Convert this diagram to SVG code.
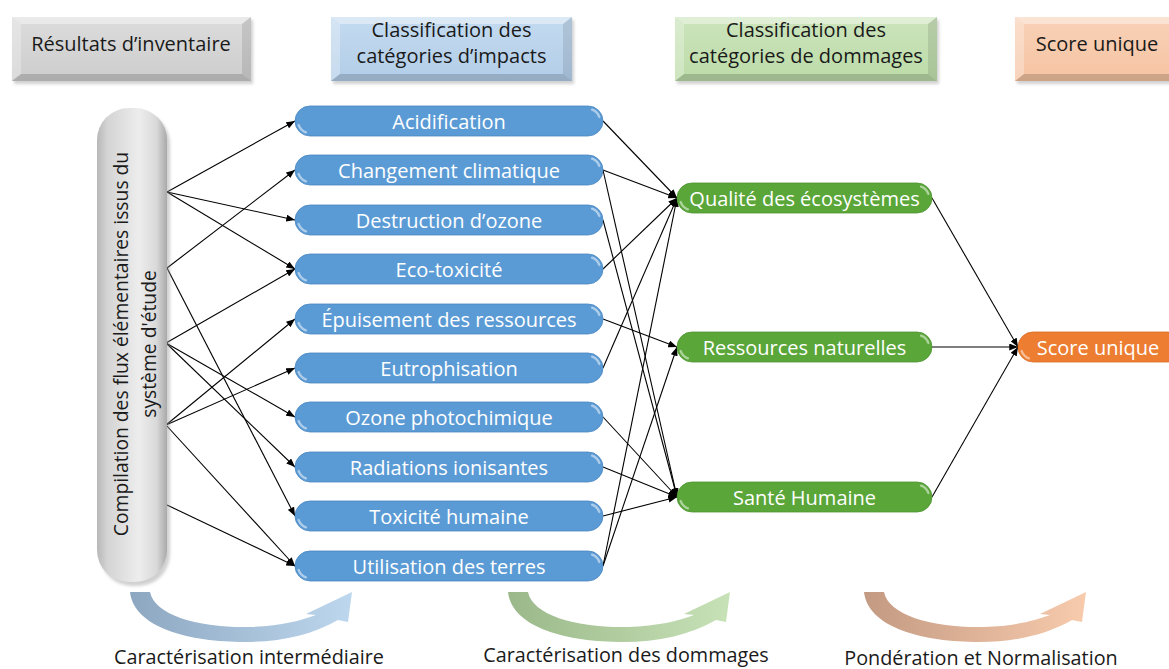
<svg xmlns="http://www.w3.org/2000/svg" width="1169" height="669" viewBox="0 0 1169 669">
<style>
  text { font-family: "Open Sans", "Noto Sans", sans-serif; }
  .hdr { font-size: 20px; fill: #1a1a1a; text-anchor: middle; }
  .lbl { font-size: 19.8px; fill: #1a1a1a; text-anchor: middle; }
  .pt { font-size: 20px; fill: #ffffff; text-anchor: middle; dominant-baseline: central; }
  .ptl { font-size: 19.3px; fill: #1a1a1a; text-anchor: middle; }
  .imp { fill: #5b9bd5; stroke: #4a86c0; stroke-width: 0.8; }
  .dmg { fill: #5aa639; stroke: #4e9432; stroke-width: 0.8; }
  .sc { fill: #ed7d31; stroke: #d96d25; stroke-width: 0.8; }
  .gl { fill: none; stroke: #ffffff; stroke-opacity: 0.5; stroke-width: 2.4; stroke-linecap: round; }
  .conn line { stroke: #000; stroke-width: 1.1; marker-end: url(#ah); }
  .bev-l { fill: #ffffff; opacity: 0.28; }
  .bev-t { fill: #ffffff; opacity: 0.4; }
  .bev-r { fill: #000000; opacity: 0.10; }
  .bev-b { fill: #000000; opacity: 0.16; }
</style>
<defs>
  <marker id="ah" viewBox="0 0 10 8" refX="10" refY="4" markerWidth="9" markerHeight="7" markerUnits="userSpaceOnUse" orient="auto">
    <path d="M0,0 L10,4 L0,8 Z" fill="#000"/>
  </marker>
  <filter id="sh" x="-10%" y="-20%" width="130%" height="160%">
    <feGaussianBlur stdDeviation="1.5"/>
  </filter>
  <linearGradient id="gPill" x1="0" y1="0" x2="1" y2="0">
    <stop offset="0" stop-color="#b8b8b8"/>
    <stop offset="0.15" stop-color="#d4d4d4"/>
    <stop offset="0.6" stop-color="#ededed"/>
    <stop offset="0.85" stop-color="#d9d9d9"/>
    <stop offset="1" stop-color="#a9a9a9"/>
  </linearGradient>
  <linearGradient id="gGray" x1="0" y1="0" x2="0" y2="1">
    <stop offset="0" stop-color="#dcdcdc"/>
    <stop offset="1" stop-color="#cdcdcd"/>
  </linearGradient>
  <linearGradient id="gBlue" x1="0" y1="0" x2="0" y2="1">
    <stop offset="0" stop-color="#c4dbf0"/>
    <stop offset="1" stop-color="#b2cde8"/>
  </linearGradient>
  <linearGradient id="gGreen" x1="0" y1="0" x2="0" y2="1">
    <stop offset="0" stop-color="#cce4bc"/>
    <stop offset="1" stop-color="#bcdca8"/>
  </linearGradient>
  <linearGradient id="gOrange" x1="0" y1="0" x2="0" y2="1">
    <stop offset="0" stop-color="#f9d2b8"/>
    <stop offset="1" stop-color="#f5c3a2"/>
  </linearGradient>
  <linearGradient id="aBlue" x1="0" y1="0" x2="1" y2="0">
    <stop offset="0" stop-color="#8ea7c1"/>
    <stop offset="1" stop-color="#bdd7ee"/>
  </linearGradient>
  <linearGradient id="aGreen" x1="0" y1="0" x2="1" y2="0">
    <stop offset="0" stop-color="#9ab889"/>
    <stop offset="1" stop-color="#c8e2b7"/>
  </linearGradient>
  <linearGradient id="aOrange" x1="0" y1="0" x2="1" y2="0">
    <stop offset="0" stop-color="#c39a82"/>
    <stop offset="1" stop-color="#f8cbad"/>
  </linearGradient>
  <path id="swoosh" d="M0,0 L20,0 C25,24 70,36 120,35 C150,34 170,29 186,23 L176,22 L222,0 L218,30 L208,28 C182,43 150,50 115,50 C60,50 4,36 0,0 Z"/>
  <path id="glL" d="M-11.3,4.1 A12,12 0 0 0 -4.1,11.3"/>
  <path id="glR" d="M4.1,-11.3 A12,12 0 0 1 11.3,-4.1"/>
</defs>

<rect width="1169" height="669" fill="#ffffff"/>

<!-- Header boxes -->
<g id="hdr-inventaire">
  <rect x="14" y="20" width="239" height="64" fill="#9a9a9a" opacity="0.45" filter="url(#sh)"/>
  <rect x="12" y="17" width="239" height="64" fill="url(#gGray)"/>
  <polygon class="bev-t" points="12,17 251,17 242,24 21,24"/>
  <polygon class="bev-l" points="12,17 21,24 21,74 12,81"/>
  <polygon class="bev-r" points="251,17 251,81 242,74 242,24"/>
  <polygon class="bev-b" points="12,81 21,74 242,74 251,81"/>
  <text class="hdr" x="131" y="50.5">Résultats d’inventaire</text>
</g>
<g id="hdr-impacts">
  <rect x="333" y="20" width="241" height="64" fill="#9a9a9a" opacity="0.45" filter="url(#sh)"/>
  <rect x="331" y="17" width="241" height="64" fill="url(#gBlue)"/>
  <polygon class="bev-t" points="331,17 572,17 563,24 340,24"/>
  <polygon class="bev-l" points="331,17 340,24 340,74 331,81"/>
  <polygon class="bev-r" points="572,17 572,81 563,74 563,24"/>
  <polygon class="bev-b" points="331,81 340,74 563,74 572,81"/>
  <text class="hdr" x="451.5" y="37">Classification des</text>
  <text class="hdr" x="451.5" y="63">catégories d’impacts</text>
</g>
<g id="hdr-dommages">
  <rect x="677" y="20" width="262" height="64" fill="#9a9a9a" opacity="0.45" filter="url(#sh)"/>
  <rect x="675" y="17" width="262" height="64" fill="url(#gGreen)"/>
  <polygon class="bev-t" points="675,17 937,17 928,24 684,24"/>
  <polygon class="bev-l" points="675,17 684,24 684,74 675,81"/>
  <polygon class="bev-r" points="937,17 937,81 928,74 928,24"/>
  <polygon class="bev-b" points="675,81 684,74 928,74 937,81"/>
  <text class="hdr" x="806" y="37">Classification des</text>
  <text class="hdr" x="806" y="63">catégories de dommages</text>
</g>
<g id="hdr-score">
  <rect x="1017" y="20" width="170" height="64" fill="#9a9a9a" opacity="0.45" filter="url(#sh)"/>
  <rect x="1015" y="17" width="170" height="64" fill="url(#gOrange)"/>
  <polygon class="bev-t" points="1015,17 1185,17 1176,24 1024,24"/>
  <polygon class="bev-l" points="1015,17 1024,24 1024,74 1015,81"/>
  <polygon class="bev-b" points="1015,81 1024,74 1176,74 1185,81"/>
  <text class="hdr" x="1097" y="50.5">Score unique</text>
</g>

<!-- Connectors -->
<g id="connectors" class="conn">
  <line x1="167" y1="192" x2="295" y2="121"/>
  <line x1="167" y1="192" x2="295" y2="220"/>
  <line x1="167" y1="192" x2="295" y2="269"/>
  <line x1="167" y1="268" x2="295" y2="170"/>
  <line x1="167" y1="268" x2="295" y2="516"/>
  <line x1="166" y1="343" x2="295" y2="269"/>
  <line x1="166" y1="343" x2="295" y2="417"/>
  <line x1="166" y1="343" x2="295" y2="467"/>
  <line x1="166" y1="425" x2="295" y2="319"/>
  <line x1="166" y1="425" x2="295" y2="368"/>
  <line x1="166" y1="425" x2="295" y2="566"/>
  <line x1="167" y1="505" x2="295" y2="566"/>

  <line x1="603" y1="121" x2="677" y2="198"/>
  <line x1="603" y1="170" x2="677" y2="198"/>
  <line x1="603" y1="170" x2="677" y2="497"/>
  <line x1="603" y1="220" x2="677" y2="497"/>
  <line x1="603" y1="269" x2="677" y2="198"/>
  <line x1="603" y1="319" x2="677" y2="347"/>
  <line x1="603" y1="368" x2="677" y2="198"/>
  <line x1="603" y1="417" x2="677" y2="497"/>
  <line x1="603" y1="467" x2="677" y2="497"/>
  <line x1="603" y1="516" x2="677" y2="497"/>
  <line x1="603" y1="566" x2="677" y2="198"/>
  <line x1="603" y1="566" x2="677" y2="347"/>

  <line x1="932" y1="198" x2="1018" y2="347"/>
  <line x1="932" y1="347" x2="1018" y2="347"/>
  <line x1="932" y1="497" x2="1018" y2="347"/>
</g>

<!-- Inventory pill -->
<g id="inventaire">
  <rect x="100" y="112" width="70" height="474" rx="32" ry="32" fill="#999" opacity="0.45" filter="url(#sh)"/>
  <rect x="97" y="108" width="70" height="474" rx="32" ry="32" fill="url(#gPill)"/>
  <text class="ptl" transform="translate(128,344) rotate(-90)">Compilation des flux élémentaires issus du</text>
  <text class="ptl" transform="translate(156,344) rotate(-90)">système d'étude</text>
</g>

<!-- Impact categories -->
<g id="imp-acidification">
  <rect class="imp" x="295" y="106" width="308" height="30" rx="15"/>
  <use class="gl" href="#glL" transform="translate(310,121)"/><use class="gl" href="#glR" transform="translate(588,121)"/>
  <text class="pt" x="449" y="121">Acidification</text>
</g>
<g id="imp-changement">
  <rect class="imp" x="295" y="155" width="308" height="30" rx="15"/>
  <use class="gl" href="#glL" transform="translate(310,170)"/><use class="gl" href="#glR" transform="translate(588,170)"/>
  <text class="pt" x="449" y="170">Changement climatique</text>
</g>
<g id="imp-destruction">
  <rect class="imp" x="295" y="205" width="308" height="30" rx="15"/>
  <use class="gl" href="#glL" transform="translate(310,220)"/><use class="gl" href="#glR" transform="translate(588,220)"/>
  <text class="pt" x="449" y="220">Destruction d’ozone</text>
</g>
<g id="imp-ecotox">
  <rect class="imp" x="295" y="254" width="308" height="30" rx="15"/>
  <use class="gl" href="#glL" transform="translate(310,269)"/><use class="gl" href="#glR" transform="translate(588,269)"/>
  <text class="pt" x="449" y="269">Eco-toxicité</text>
</g>
<g id="imp-epuisement">
  <rect class="imp" x="295" y="304" width="308" height="30" rx="15"/>
  <use class="gl" href="#glL" transform="translate(310,319)"/><use class="gl" href="#glR" transform="translate(588,319)"/>
  <text class="pt" x="449" y="319">Épuisement des ressources</text>
</g>
<g id="imp-eutrophisation">
  <rect class="imp" x="295" y="353" width="308" height="30" rx="15"/>
  <use class="gl" href="#glL" transform="translate(310,368)"/><use class="gl" href="#glR" transform="translate(588,368)"/>
  <text class="pt" x="449" y="368">Eutrophisation</text>
</g>
<g id="imp-ozone">
  <rect class="imp" x="295" y="402" width="308" height="30" rx="15"/>
  <use class="gl" href="#glL" transform="translate(310,417)"/><use class="gl" href="#glR" transform="translate(588,417)"/>
  <text class="pt" x="449" y="417">Ozone photochimique</text>
</g>
<g id="imp-radiations">
  <rect class="imp" x="295" y="452" width="308" height="30" rx="15"/>
  <use class="gl" href="#glL" transform="translate(310,467)"/><use class="gl" href="#glR" transform="translate(588,467)"/>
  <text class="pt" x="449" y="467">Radiations ionisantes</text>
</g>
<g id="imp-toxicite">
  <rect class="imp" x="295" y="501" width="308" height="30" rx="15"/>
  <use class="gl" href="#glL" transform="translate(310,516)"/><use class="gl" href="#glR" transform="translate(588,516)"/>
  <text class="pt" x="449" y="516">Toxicité humaine</text>
</g>
<g id="imp-utilisation">
  <rect class="imp" x="295" y="551" width="308" height="30" rx="15"/>
  <use class="gl" href="#glL" transform="translate(310,566)"/><use class="gl" href="#glR" transform="translate(588,566)"/>
  <text class="pt" x="449" y="566">Utilisation des terres</text>
</g>

<!-- Damage categories -->
<g id="dmg-qualite">
  <rect class="dmg" x="677" y="183" width="255" height="30" rx="15"/>
  <use class="gl" href="#glL" transform="translate(692,198)"/><use class="gl" href="#glR" transform="translate(917,198)"/>
  <text class="pt" x="804.5" y="198">Qualité des écosystèmes</text>
</g>
<g id="dmg-ressources">
  <rect class="dmg" x="677" y="332" width="255" height="30" rx="15"/>
  <use class="gl" href="#glL" transform="translate(692,347)"/><use class="gl" href="#glR" transform="translate(917,347)"/>
  <text class="pt" x="804.5" y="347">Ressources naturelles</text>
</g>
<g id="dmg-sante">
  <rect class="dmg" x="677" y="482" width="255" height="30" rx="15"/>
  <use class="gl" href="#glL" transform="translate(692,497)"/><use class="gl" href="#glR" transform="translate(917,497)"/>
  <text class="pt" x="804.5" y="497">Santé Humaine</text>
</g>

<!-- Single score -->
<g id="score-unique">
  <rect class="sc" x="1018" y="332" width="165" height="30" rx="15"/>
  <use class="gl" href="#glL" transform="translate(1033,347)"/>
  <text class="pt" x="1098" y="347">Score unique</text>
</g>

<!-- Bottom curved arrows and labels -->
<g id="step-intermediaire">
  <use href="#swoosh" transform="translate(130,592)" fill="url(#aBlue)"/>
  <text class="lbl" x="249" y="664">Caractérisation intermédiaire</text>
</g>
<g id="step-dommages">
  <use href="#swoosh" transform="translate(508,592)" fill="url(#aGreen)"/>
  <text class="lbl" x="626" y="662">Caractérisation des dommages</text>
</g>
<g id="step-ponderation">
  <use href="#swoosh" transform="translate(864,592)" fill="url(#aOrange)"/>
  <text class="lbl" x="981" y="665">Pondération et Normalisation</text>
</g>
</svg>
